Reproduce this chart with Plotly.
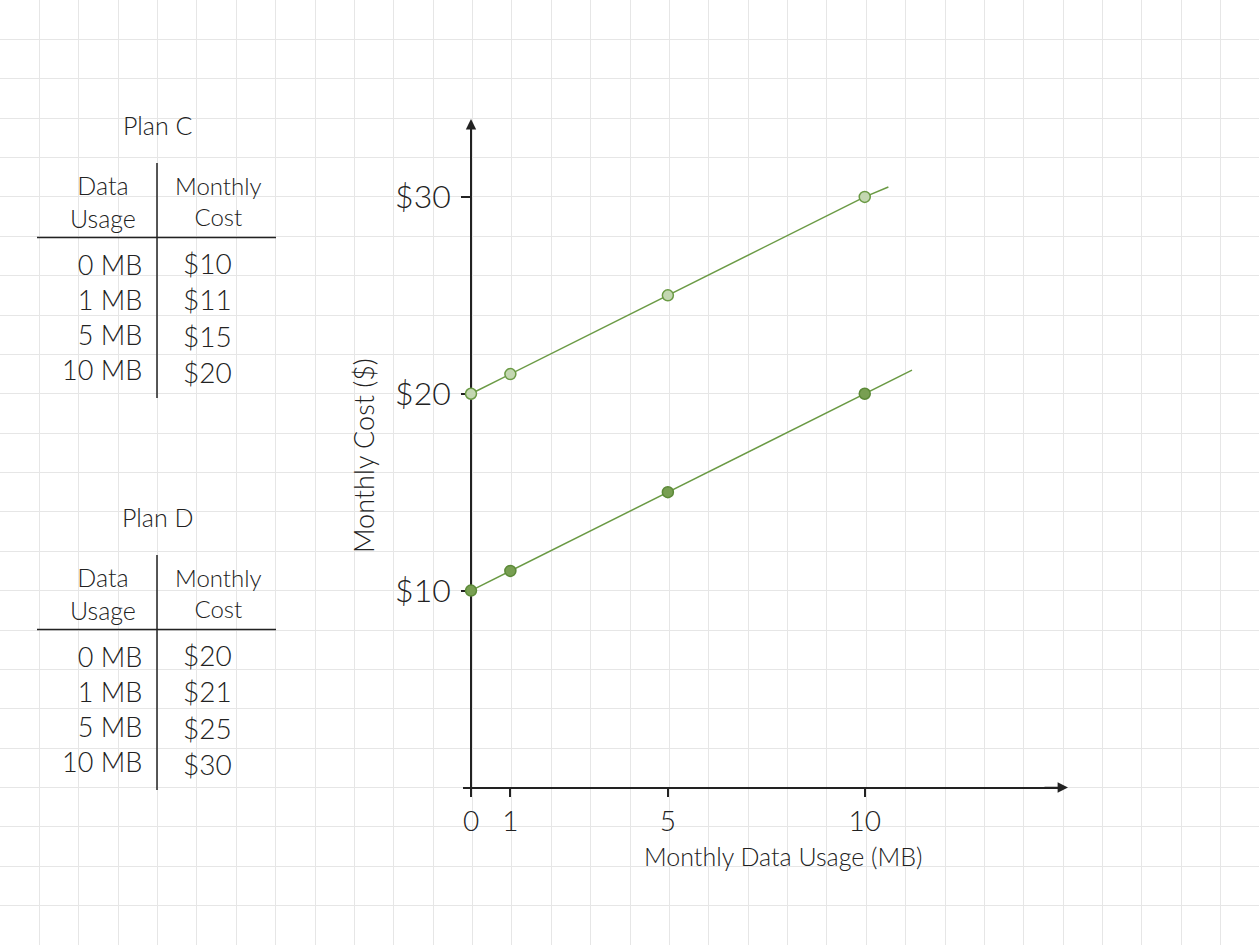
import plotly.graph_objects as go

# ---------------- data ----------------
usage_mb = [0, 1, 5, 10]
plan_c_cost = [10, 11, 15, 20]
plan_d_cost = [20, 21, 25, 30]
# where each drawn line stops
plan_c_line_end = [11.2, 21.2]
plan_d_line_end = [10.6, 30.5]

x_tick_vals = [0, 1, 5, 10]
x_tick_text = ["0", "1", "5", "10"]
y_tick_vals = [10, 20, 30]
y_tick_text = ["$10", "$20", "$30"]

x_title = "Monthly Data Usage (MB)"
y_title = "Monthly Cost ($)"
table_titles = ["Plan C", "Plan D"]
col_headers = ["Data<br>Usage", "Monthly<br>Cost"]

# ---------------- layout geometry ----------------
W, H = 1259, 945
CELL = 39.375            # grid cell in px
X0, Y0 = 471, 787.5      # pixel position of the origin
XS = CELL                # px per MB
YS = CELL / 2            # px per dollar

def px(x):
    return x / W

def py(y):
    return 1 - y / H

FONT = "Lato"
INK = "#222222"
GREEN = "#6a9a44"
FW = 300

fig = go.Figure()

# empty trace so the background grid subplot exists
fig.add_trace(go.Scatter(x=[None], y=[None], xaxis="x", yaxis="y",
                         showlegend=False, hoverinfo="skip"))

# lines
fig.add_trace(go.Scatter(x=usage_mb + [plan_d_line_end[0]], y=plan_d_cost + [plan_d_line_end[1]],
                         mode="lines", line=dict(color=GREEN, width=1.5),
                         xaxis="x2", yaxis="y2", showlegend=False, hoverinfo="skip"))
fig.add_trace(go.Scatter(x=usage_mb + [plan_c_line_end[0]], y=plan_c_cost + [plan_c_line_end[1]],
                         mode="lines", line=dict(color=GREEN, width=1.5),
                         xaxis="x2", yaxis="y2", showlegend=False, hoverinfo="skip"))
# markers
fig.add_trace(go.Scatter(x=usage_mb, y=plan_d_cost, mode="markers", name="Plan D",
                         marker=dict(size=11, color="#c3d7b1", line=dict(color="#6a9a44", width=1.5)),
                         xaxis="x2", yaxis="y2", showlegend=False, cliponaxis=False))
fig.add_trace(go.Scatter(x=usage_mb, y=plan_c_cost, mode="markers", name="Plan C",
                         marker=dict(size=11, color="#789f52", line=dict(color="#5c8a38", width=1.5)),
                         xaxis="x2", yaxis="y2", showlegend=False, cliponaxis=False))

x_left_px, x_right_px = 463, 1060
y_top_px, y_bot_px = 128, 797

fig.update_layout(
    width=W, height=H,
    margin=dict(l=0, r=0, t=0, b=0),
    paper_bgcolor="white",
    plot_bgcolor="rgba(0,0,0,0)",
    showlegend=False,
    font=dict(family=FONT, color=INK, weight=FW),
    xaxis=dict(domain=[0, 1], range=[0, W / CELL], dtick=1, tick0=0,
               showgrid=True, gridcolor="#e6e6e6", gridwidth=1.2,
               showticklabels=False, ticks="", zeroline=False, showline=False,
               fixedrange=True),
    yaxis=dict(domain=[0, 1], range=[0, H / CELL], dtick=1, tick0=0,
               showgrid=True, gridcolor="#e6e6e6", gridwidth=1.2,
               showticklabels=False, ticks="", zeroline=False, showline=False,
               fixedrange=True),
    xaxis2=dict(domain=[px(x_left_px), px(x_right_px)],
                range=[(x_left_px - X0) / XS, (x_right_px - X0) / XS],
                anchor="free", position=py(Y0),
                showline=True, linecolor=INK, linewidth=1.6,
                ticks="outside", ticklen=9, tickwidth=1.5, tickcolor=INK,
                tickvals=x_tick_vals, ticktext=x_tick_text,
                tickfont=dict(family=FONT, size=28, color=INK, weight=FW),
                showgrid=False, zeroline=False, layer="below traces", fixedrange=True),
    yaxis2=dict(domain=[py(y_bot_px), py(y_top_px)],
                range=[-(y_bot_px - Y0) / YS, (Y0 - y_top_px) / YS],
                anchor="free", position=px(X0),
                showline=True, linecolor=INK, linewidth=1.6,
                ticks="outside", ticklen=9, tickwidth=1.5, tickcolor=INK,
                tickvals=y_tick_vals, ticktext=y_tick_text, ticklabelstandoff=4,
                tickfont=dict(family=FONT, size=32, color=INK, weight=FW),
                showgrid=False, zeroline=False, layer="below traces", fixedrange=True),
)

annotations = []
shapes = []

# axis arrows
annotations.append(dict(x=px(1068), y=py(Y0), xref="paper", yref="paper", text="",
                        showarrow=True, ax=-25, ay=0, arrowhead=2, arrowsize=1.3,
                        arrowwidth=1.6, arrowcolor=INK))
annotations.append(dict(x=px(X0), y=py(119), xref="paper", yref="paper", text="",
                        showarrow=True, ax=0, ay=25, arrowhead=2, arrowsize=1.3,
                        arrowwidth=1.6, arrowcolor=INK))

# axis titles
annotations.append(dict(x=px(783), y=py(856), xref="paper", yref="paper", text=x_title,
                        showarrow=False, xanchor="center", yanchor="middle",
                        font=dict(family=FONT, size=25, color=INK, weight=FW)))
annotations.append(dict(x=px(363), y=py(456), xref="paper", yref="paper", text=y_title,
                        showarrow=False, xanchor="center", yanchor="middle", textangle=-90,
                        font=dict(family=FONT, size=27, color=INK, weight=FW)))

# tables
for i, (title, costs) in enumerate(zip(table_titles, [plan_c_cost, plan_d_cost])):
    off = 392 * i
    annotations.append(dict(x=px(157), y=py(125 + off), xref="paper", yref="paper", text=title,
                            showarrow=False, xanchor="center", yanchor="middle",
                            font=dict(family=FONT, size=25, color=INK, weight=FW)))
    annotations.append(dict(x=px(103), y=py(201 + off), xref="paper", yref="paper",
                            text=col_headers[0], showarrow=False, xanchor="center",
                            yanchor="middle", align="center",
                            font=dict(family=FONT, size=25, color=INK, weight=FW)))
    annotations.append(dict(x=px(218), y=py(201 + off), xref="paper", yref="paper",
                            text=col_headers[1], showarrow=False, xanchor="center",
                            yanchor="middle", align="center",
                            font=dict(family=FONT, size=24, color=INK, weight=FW)))
    annotations.append(dict(x=px(144), y=py(317 + off), xref="paper", yref="paper",
                            text="<br>".join(f"{u} MB" for u in usage_mb),
                            showarrow=False, xanchor="right", yanchor="middle", align="right",
                            font=dict(family=FONT, size=27, color=INK, weight=FW)))
    annotations.append(dict(x=px(181), y=py(317 + off), xref="paper", yref="paper",
                            text="<br>".join(f"${c}" for c in costs),
                            showarrow=False, xanchor="left", yanchor="middle", align="left",
                            font=dict(family=FONT, size=28, color=INK, weight=FW)))
    shapes.append(dict(type="line", xref="paper", yref="paper",
                       x0=px(37), x1=px(276), y0=py(237.5 + off), y1=py(237.5 + off),
                       line=dict(color=INK, width=1.5)))
    shapes.append(dict(type="line", xref="paper", yref="paper",
                       x0=px(157), x1=px(157), y0=py(163 + off), y1=py(398 + off),
                       line=dict(color=INK, width=1.5)))

fig.update_layout(annotations=annotations, shapes=shapes)

fig.write_html("out.html")
